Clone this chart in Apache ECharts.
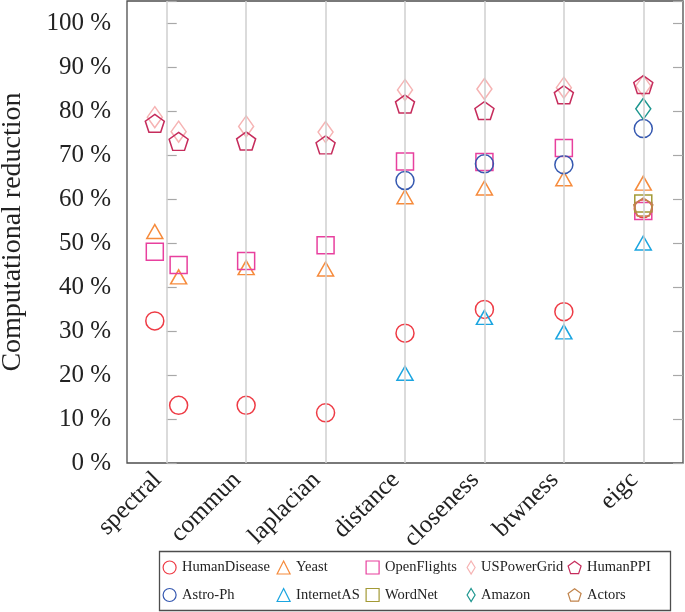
<!DOCTYPE html>
<html>
<head>
<meta charset="utf-8">
<script src="https://cdn.jsdelivr.net/npm/echarts@6/dist/echarts.min.js"></script>
<style>
html,body{margin:0;padding:0;background:#fff;}
#chart{width:685px;height:612px;}
</style>
</head>
<body>
<div id="chart"></div>
<script>
// ---- data ----
const categories = ['spectral', 'commun', 'laplacian', 'distance', 'closeness', 'btwness', 'eigc'];
// measurement columns: spectral is reported twice (two variants), the others once
const columnCategory = [0, 0, 1, 2, 3, 4, 5, 6];
const columnOffset = [-0.15, 0.15, 0, 0, 0, 0, 0, 0];

const yTicks = [0, 10, 20, 30, 40, 50, 60, 70, 80, 90, 100];

const humanDisease = [32.3, 13.1, 13.1, 11.4, 29.5, 34.9, 34.4, 57.8];
const yeast        = [52.6, 42.3, 44.4, 44.1, 60.5, 62.5, 64.6, 63.6];
const openFlights  = [48.0, 45.0, 45.9, 49.5, 68.5, 68.4, 71.6, 57.3];
const usPowerGrid  = [78.6, 75.3, 76.5, 75.2, 84.8, 85.0, 85.3, 85.7];
const humanPPI     = [77.2, 73.1, 73.2, 72.3, 81.6, 80.1, 83.7, 86.0];
const astroPh      = [null, null, null, null, 64.2, 68.0, 67.8, 76.0];
const internetAS   = [null, null, null, null, 20.4, 33.1, 29.8, 50.0];
const wordNet      = [null, null, null, null, null, null, null, 59.0];
const amazon       = [null, null, null, null, null, null, null, 80.5];
const actors       = [null, null, null, null, null, null, null, 58.2];

const PENTAGON = 'path://M0,-1L0.951,-0.309L0.588,0.809L-0.588,0.809L-0.951,-0.309Z';
const FONT = 'Liberation Serif';

const seriesDefs = [
  {name: 'HumanDisease', values: humanDisease, color: '#ee3b45', symbol: 'circle',   size: 18},
  {name: 'Yeast',        values: yeast,        color: '#f68b3c', symbol: 'triangle', size: [16, 14]},
  {name: 'OpenFlights',  values: openFlights,  color: '#e8409e', symbol: 'rect',     size: 17},
  {name: 'USPowerGrid',  values: usPowerGrid,  color: '#f6b3b3', symbol: 'diamond',  size: [15, 21]},
  {name: 'HumanPPI',     values: humanPPI,     color: '#c62c5c', symbol: PENTAGON,   size: [19, 18]},
  {name: 'Astro-Ph',     values: astroPh,      color: '#3558b0', symbol: 'circle',   size: 18},
  {name: 'InternetAS',   values: internetAS,   color: '#1ba5e0', symbol: 'triangle', size: [16, 14]},
  {name: 'WordNet',      values: wordNet,      color: '#a39a36', symbol: 'rect',     size: 17},
  {name: 'Amazon',       values: amazon,       color: '#1d968f', symbol: 'diamond',  size: [15, 21]},
  {name: 'Actors',       values: actors,       color: '#c1844c', symbol: PENTAGON,   size: [19, 18]}
];

function toPoints(values) {
  const pts = [];
  values.forEach((v, i) => {
    if (v !== null) pts.push([columnCategory[i] + columnOffset[i], v]);
  });
  return pts;
}

const series = seriesDefs.map(d => ({
  name: d.name,
  type: 'scatter',
  z: 3,
  symbol: d.symbol,
  symbolSize: d.size,
  data: toPoints(d.values),
  itemStyle: {color: 'rgba(255,255,255,0)', borderColor: d.color, borderWidth: 1.5, opacity: 1},
  emphasis: {disabled: true}
}));

// vertical grid lines at each category
series.unshift({
  name: '_grid',
  type: 'scatter',
  z: 1,
  data: [],
  silent: true,
  markLine: {
    silent: true,
    symbol: ['none', 'none'],
    label: {show: false},
    lineStyle: {color: '#cfcfcf', width: 1.5, type: 'solid'},
    emphasis: {disabled: true},
    data: categories.map((c, i) => ({xAxis: i}))
  }
});

// legend in 5 aligned columns of 2 rows
const legendColumns = [
  ['HumanDisease', 'Astro-Ph'],
  ['Yeast', 'InternetAS'],
  ['OpenFlights', 'WordNet'],
  ['USPowerGrid', 'Amazon'],
  ['HumanPPI', 'Actors']
];
const legendLeft = [162.5, 276.5, 365.5, 466.5, 567.5];
const legendIconW = [13, 13, 13, 8, 13];
const legends = legendColumns.map((names, k) => ({
  data: names,
  orient: 'vertical',
  left: legendLeft[k],
  top: 560,
  padding: 0,
  itemGap: 12.5,
  itemWidth: legendIconW[k],
  itemHeight: 13,
  selectedMode: false,
  textStyle: {fontFamily: FONT, fontSize: 14.5, color: '#222', padding: [0, 0, 0, 1]},
  itemStyle: {borderWidth: 1.2}
}));

const chart = echarts.init(document.getElementById('chart'), null, {renderer: 'canvas'});
chart.setOption({
  animation: false,
  backgroundColor: '#ffffff',
  grid: {left: 127, right: 2, top: 1, bottom: 149, show: true, containLabel: false, outerBoundsMode: 'none',
         borderColor: '#4d4d4d', borderWidth: 1.3, backgroundColor: 'transparent'},
  legend: legends,
  graphic: [{
    type: 'rect',
    left: 157, top: 549,
    shape: {width: 511, height: 59},
    style: {fill: 'none', stroke: '#4d4d4d', lineWidth: 1.3},
    silent: true
  }],
  xAxis: {
    type: 'value',
    min: -0.5,
    max: 6.5,
    interval: 0.5,
    axisLine: {show: false},
    axisTick: {show: false},
    splitLine: {show: false},
    axisLabel: {
      rotate: 45,
      margin: 4,
      padding: [0, 13, 0, 0],
      fontFamily: FONT,
      fontSize: 25,
      color: '#222',
      showMinLabel: false,
      showMaxLabel: false,
      formatter: v => (Number.isInteger(v) && v >= 0 && v < categories.length) ? categories[v] : ''
    }
  },
  yAxis: [{
    type: 'value',
    min: 0,
    max: 105,
    interval: 10,
    position: 'left',
    axisLine: {show: false},
    axisTick: {show: true, inside: true, length: 10, lineStyle: {color: '#a8a8a8', width: 1.2}},
    splitLine: {show: false},
    axisLabel: {
      margin: 16,
      fontFamily: FONT,
      fontSize: 25,
      color: '#222',
      formatter: v => yTicks.indexOf(v) >= 0 ? v + ' %' : ''
    },
    name: 'Computational reduction',
    nameLocation: 'middle',
    nameGap: 100,
    nameTextStyle: {fontFamily: FONT, fontSize: 28, color: '#222'}
  }, {
    type: 'value',
    min: 0,
    max: 105,
    interval: 10,
    position: 'right',
    axisLine: {show: false},
    axisTick: {show: true, inside: true, length: 10, lineStyle: {color: '#a8a8a8', width: 1.2}},
    splitLine: {show: false},
    axisLabel: {show: false}
  }],
  series: series
});
</script>
</body>
</html>
